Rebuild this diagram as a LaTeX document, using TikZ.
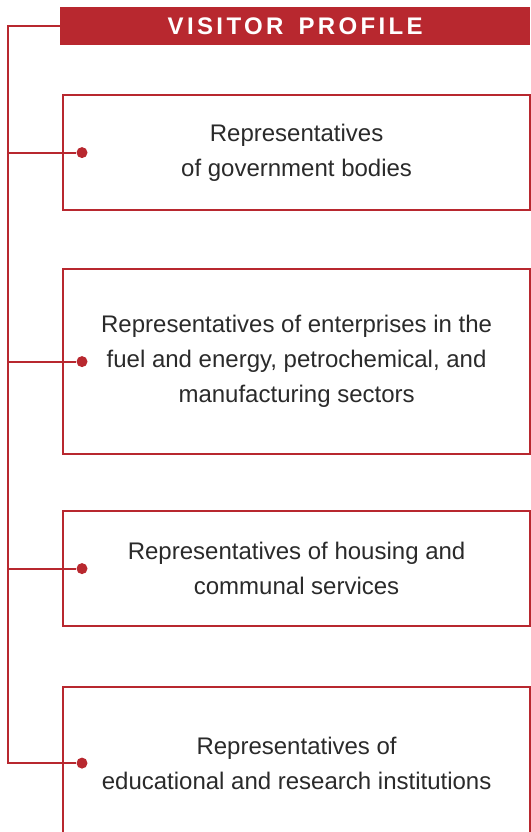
\documentclass[tikz,border=0pt]{standalone}
\usepackage{fontspec}
\setmainfont{Liberation Sans}
\definecolor{vred}{HTML}{B8282F}
\definecolor{vgray}{HTML}{2A2A2A}
\tikzset{
  link/.style={draw=vred,line width=2.2pt},
  pbox/.style={draw=vred,line width=2.2pt,anchor=north west,minimum width=467pt,
    align=center,text=vgray,font=\fontsize{24}{35}\selectfont},
  pdot/.style={circle,fill=vred,inner sep=0pt,minimum size=11pt},
}
\begin{document}
\begin{tikzpicture}[x=1pt,y=-1pt]
\useasboundingbox (0,0) rectangle (530,832);
% header
\node[fill=vred,anchor=north west,minimum width=470pt,minimum height=38pt,inner sep=0pt,
  text=white,font=\fontsize{24}{24}\selectfont\bfseries\addfontfeature{LetterSpace=14}]
  (hdr) at (60,7) {VISITOR\hspace{5pt} PROFILE\hspace{7pt}};
% boxes
\node[pbox,minimum height=115pt] (b1) at (62,94) {Representatives\\of government bodies};
\node[pbox,minimum height=185pt] (b2) at (62,268) {Representatives of enterprises in the\\fuel and energy, petrochemical, and\\manufacturing sectors};
\node[pbox,minimum height=115pt] (b3) at (62,510) {Representatives of housing and\\communal services};
\node[pbox,minimum height=152pt] (b4) at (62,686) {Representatives of\\educational and research institutions};
% dots and spine
\coordinate (sp) at (8,0);
\foreach \i in {1,...,4}
  \node[pdot] (d\i) at ([xshift=20pt]b\i.west) {};
\draw[link] (hdr.west) -- (hdr.west -| sp) |- (d4);
\foreach \i in {1,2,3}
  \draw[link] (sp |- d\i) -- (d\i);
\end{tikzpicture}
\end{document}
